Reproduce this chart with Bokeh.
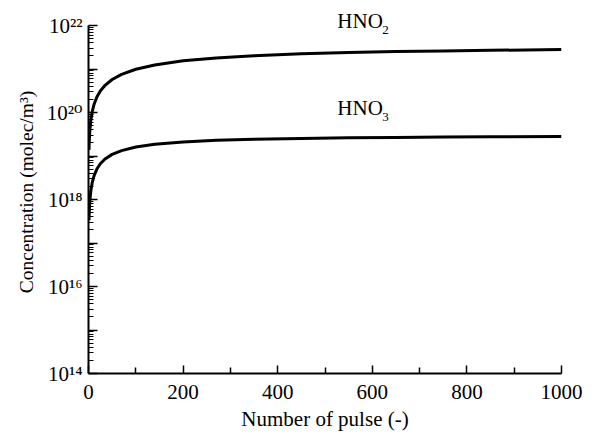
from bokeh.plotting import figure
from bokeh.models import Range1d, FixedTicker, Label
from bokeh.embed import file_html
from bokeh.resources import INLINE

# ---- data ----
pulses = [1, 2, 3, 5, 8, 12, 18, 25, 35, 50, 70, 100, 140, 200, 270, 350,
          450, 550, 650, 750, 850, 1000]
hno2 = [1.37e19, 2.72e19, 4.07e19, 6.73e19, 1.06e20, 1.57e20, 2.31e20, 3.13e20,
        4.22e20, 5.74e20, 7.54e20, 9.86e20, 1.24e21, 1.54e21, 1.80e21, 2.02e21,
        2.23e21, 2.39e21, 2.51e21, 2.61e21, 2.69e21, 2.79e21]
hno3 = [3.35e17, 6.6e17, 9.8e17, 1.61e18, 2.49e18, 3.59e18, 5.08e18, 6.63e18,
        8.54e18, 1.09e19, 1.33e19, 1.61e19, 1.86e19, 2.10e19, 2.29e19, 2.43e19,
        2.54e19, 2.62e19, 2.68e19, 2.72e19, 2.76e19, 2.80e19]

x_major = [0, 200, 400, 600, 800, 1000]
x_minor = [100, 300, 500, 700, 900]
y_exponents = [14, 15, 16, 17, 18, 19, 20, 21, 22]
y_tick_labels = {14: "10\u00b9\u2074", 16: "10\u00b9\u2076", 18: "10\u00b9\u2078",
                 20: "10\u00b2\u2070", 22: "10\u00b2\u00b2"}
# series names: (base, subscript, x, y)
series_labels = [("HNO", "2", 526, 7.67e21), ("HNO", "3", 526, 7.67e19)]

FONT = "Liberation Serif"
TICK_FONT = "'Liberation Serif', 'DejaVu Serif', serif"

y_lo, y_axis_top = 1e14, 1e22
y_hi = 10 ** 22.345   # a little head room above the axis for the HNO2 label

p = figure(width=592, height=437, y_axis_type="log",
           x_range=Range1d(0, 1000), y_range=Range1d(y_lo, y_hi),
           output_backend="svg", toolbar_location=None,
           min_border_left=88, min_border_right=31,
           min_border_top=10, min_border_bottom=64)
p.outline_line_color = None
p.grid.visible = False
p.background_fill_color = "white"
p.border_fill_color = "white"

p.line(pulses, hno2, line_color="black", line_width=3)
p.line(pulses, hno3, line_color="black", line_width=3)

for base, sub, xx, yy in series_labels:
    p.add_layout(Label(x=xx, y=yy, y_offset=10, text=base, text_font=FONT,
                       text_font_size="21px", text_color="black",
                       text_baseline="alphabetic"))
    p.add_layout(Label(x=xx, y=yy, x_offset=45, y_offset=1, text=sub,
                       text_font=FONT, text_font_size="13px",
                       text_color="black", text_baseline="alphabetic"))

# x axis
xa = p.xaxis[0]
xa.ticker = FixedTicker(ticks=x_major, minor_ticks=x_minor)
xa.axis_line_width = 2
xa.axis_line_color = "black"
xa.major_tick_in = 8
xa.major_tick_out = 0
xa.minor_tick_in = 6
xa.minor_tick_out = 0
xa.major_tick_line_width = 1.5
xa.minor_tick_line_width = 1.5
xa.major_tick_line_color = "black"
xa.minor_tick_line_color = "black"
xa.major_label_text_font = FONT
xa.major_label_text_font_size = "21px"
xa.major_label_text_color = "black"
xa.major_label_standoff = 11
xa.axis_label = "Number of pulse (-)"
xa.axis_label_text_font = FONT
xa.axis_label_text_font_size = "21px"
xa.axis_label_text_font_style = "normal"
xa.axis_label_text_color = "black"
xa.axis_label_standoff = 5

# y axis
ya = p.yaxis[0]
y_major = [10.0 ** e for e in y_exponents]
y_minor = [m * 10.0 ** e for e in y_exponents[:-1] for m in range(2, 10)]
ya.ticker = FixedTicker(ticks=y_major, minor_ticks=y_minor)
ya.bounds = (y_lo, y_axis_top)
ya.major_label_overrides = {10.0 ** e: y_tick_labels.get(e, "")
                            for e in y_exponents}
ya.axis_line_width = 2
ya.axis_line_color = "black"
ya.major_tick_in = 9
ya.major_tick_out = 0
ya.minor_tick_in = 5
ya.minor_tick_out = 0
ya.major_tick_line_width = 1.5
ya.minor_tick_line_width = 1.2
ya.major_tick_line_color = "black"
ya.minor_tick_line_color = "black"
ya.major_label_text_font = TICK_FONT
ya.major_label_text_font_size = "21px"
ya.major_label_text_color = "black"
ya.major_label_standoff = 6
ya.axis_label = "Concentration (molec/m\u00b3)"
ya.axis_label_text_font = FONT
ya.axis_label_text_font_size = "19.5px"
ya.axis_label_text_font_style = "normal"
ya.axis_label_text_color = "black"
ya.axis_label_standoff = 7

open("out.html", "w").write(file_html(p, INLINE))
